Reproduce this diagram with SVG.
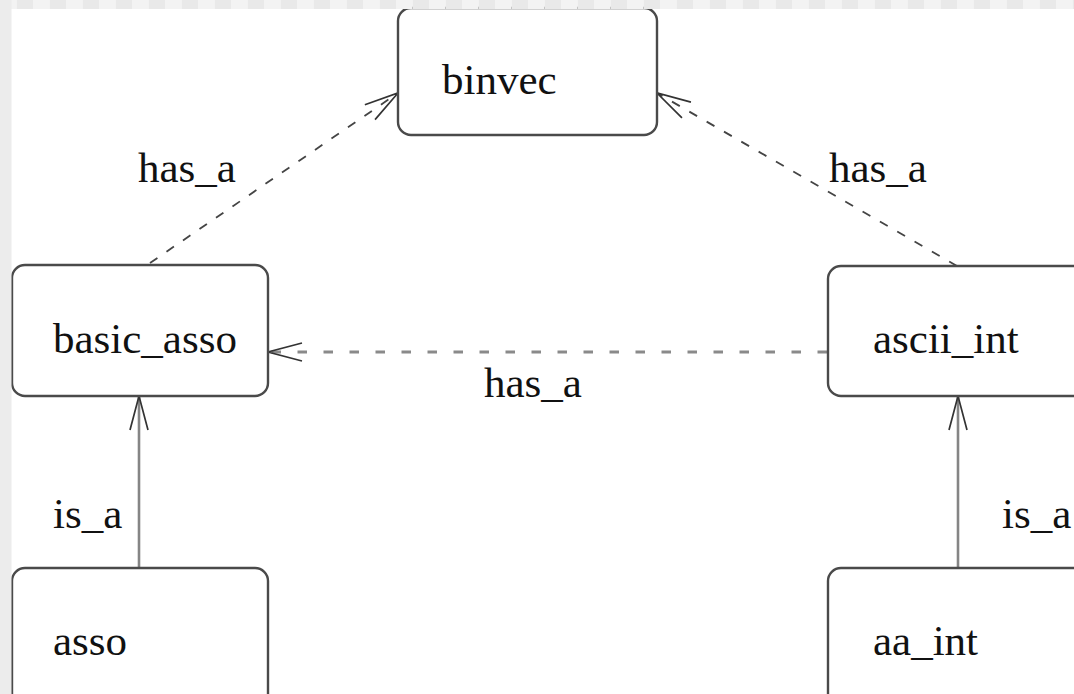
<svg xmlns="http://www.w3.org/2000/svg" width="1074" height="694" viewBox="0 0 1074 694">
  <defs>
    <style>
      .box { fill: #ffffff; stroke: #4a4a4a; stroke-width: 2.4; }
      .lbl { font-family: "Liberation Serif", "Times New Roman", serif; font-size: 43px; fill: #111111; }
      .dash-diag { fill: none; stroke: #444444; stroke-width: 1.8; stroke-dasharray: 9 11; }
      .dash-horz { fill: none; stroke: #8a8a8a; stroke-width: 3; stroke-dasharray: 9.5 16.5; }
      .solid { fill: none; stroke: #858585; stroke-width: 2.6; }
    </style>
    <marker id="open-arrow" markerUnits="userSpaceOnUse" markerWidth="40" markerHeight="24" viewBox="-36 -12 40 24" refX="0" refY="0" orient="auto">
      <path d="M-34,-9 L0,0 L-34,9" fill="none" stroke="#333333" stroke-width="1.7"/>
    </marker>
    <pattern id="checker" patternUnits="userSpaceOnUse" x="0" y="0" width="33" height="10">
      <rect x="0" y="0" width="16.5" height="10" fill="#f3f3f3"/>
      <rect x="16.5" y="0" width="16.5" height="10" fill="#e9e9e9"/>
    </pattern>
  </defs>

  <!-- canvas -->
  <rect x="0" y="0" width="1074" height="694" fill="#ffffff"/>

  <!-- connectors -->
  <g id="connectors">
    <!-- basic_asso -> binvec (has_a) -->
    <line class="dash-diag" x1="150" y1="263" x2="398" y2="93" marker-end="url(#open-arrow)"/>
    <!-- ascii_int -> binvec (has_a) -->
    <line class="dash-diag" x1="957" y1="266" x2="657" y2="93" marker-end="url(#open-arrow)"/>
    <!-- ascii_int -> basic_asso (has_a) -->
    <line class="dash-horz" x1="827" y1="352" x2="268" y2="352" marker-end="url(#open-arrow)"/>
    <!-- asso -> basic_asso (is_a) -->
    <line class="solid" x1="139" y1="568" x2="139" y2="396" marker-end="url(#open-arrow)"/>
    <!-- aa_int -> ascii_int (is_a) -->
    <line class="solid" x1="958" y1="568" x2="958" y2="396" marker-end="url(#open-arrow)"/>

    <text class="lbl" x="138" y="182">has_a</text>
    <text class="lbl" x="829" y="182">has_a</text>
    <text class="lbl" x="484" y="397">has_a</text>
    <text class="lbl" x="53" y="528">is_a</text>
    <text class="lbl" x="1002" y="528">is_a</text>
  </g>

  <!-- nodes -->
  <g id="binvec">
    <rect class="box" x="398" y="8" width="259" height="127" rx="13" ry="13"/>
    <text class="lbl" x="442" y="94">binvec</text>
  </g>
  <g id="basic_asso">
    <rect class="box" x="12" y="265" width="256" height="131" rx="13" ry="13"/>
    <text class="lbl" x="53" y="353">basic_asso</text>
  </g>
  <g id="ascii_int">
    <rect class="box" x="828" y="266" width="258" height="130" rx="13" ry="13"/>
    <text class="lbl" x="873" y="353">ascii_int</text>
  </g>
  <g id="asso">
    <rect class="box" x="12" y="568" width="256" height="140" rx="13" ry="13"/>
    <text class="lbl" x="53" y="655">asso</text>
  </g>
  <g id="aa_int">
    <rect class="box" x="828" y="568" width="258" height="140" rx="13" ry="13"/>
    <text class="lbl" x="873" y="655">aa_int</text>
  </g>

  <!-- page margins -->
  <rect x="0" y="0" width="1074" height="9" fill="url(#checker)"/>
  <rect x="0" y="0" width="11.5" height="694" fill="#ececec"/>
</svg>
